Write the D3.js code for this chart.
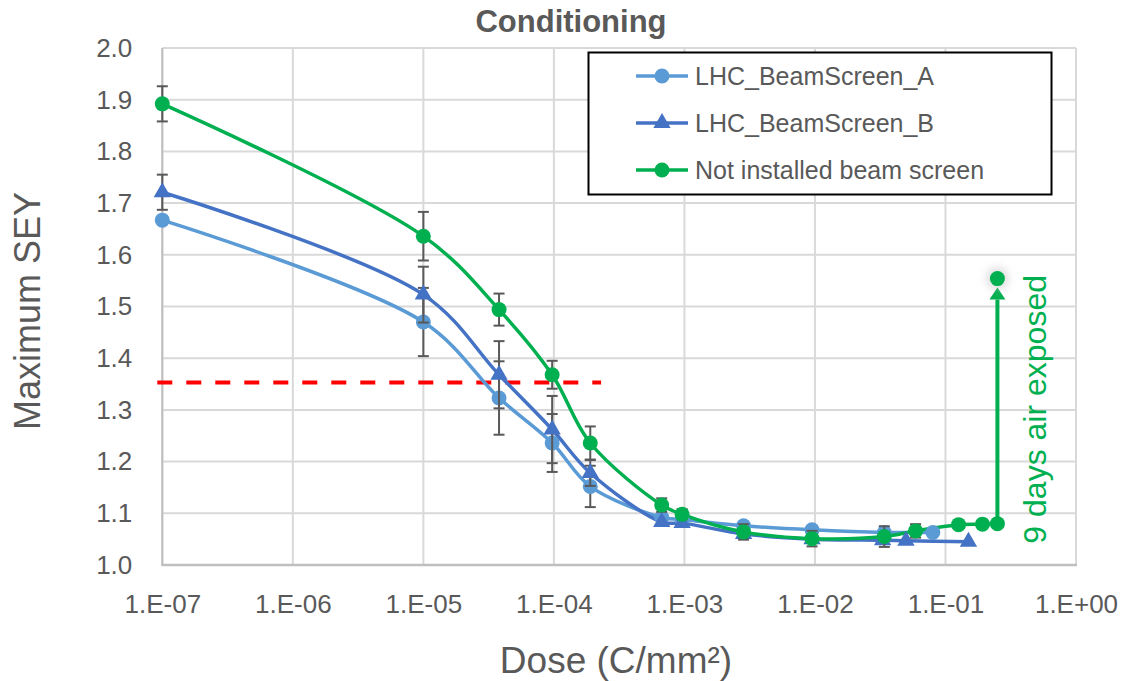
<!DOCTYPE html>
<html>
<head>
<meta charset="utf-8">
<script src="https://cdn.jsdelivr.net/npm/d3@7"></script>
<style>
  html, body { margin: 0; padding: 0; background: #fff; }
  svg text { font-family: "Liberation Sans", Arial, sans-serif; }
</style>
</head>
<body>
<svg id="chart" width="1122" height="681"></svg>
<script>
// ---- data ----
const xTickValues = [1e-7, 1e-6, 1e-5, 1e-4, 1e-3, 1e-2, 1e-1, 1];
const xTickLabels = ["1.E-07", "1.E-06", "1.E-05", "1.E-04", "1.E-03", "1.E-02", "1.E-01", "1.E+00"];
const yTickValues = [1.0, 1.1, 1.2, 1.3, 1.4, 1.5, 1.6, 1.7, 1.8, 1.9, 2.0];

const seriesNames = ["LHC_BeamScreen_A", "LHC_BeamScreen_B", "Not installed beam screen"];

const doseA = [1e-7, 1e-5, 3.8e-5, 9.7e-5, 1.9e-4, 6.7e-4, 9.6e-4, 2.84e-3, 9.5e-3, 3.4e-2, 8.0e-2];
const seyA  = [1.667, 1.470, 1.323, 1.236, 1.152, 1.092, 1.088, 1.076, 1.068, 1.063, 1.063];
const errA  = [0, 0.066, 0.071, 0.056, 0.040, 0, 0, 0, 0, 0, 0];

const doseB = [1e-7, 1e-5, 3.8e-5, 9.7e-5, 1.9e-4, 6.7e-4, 9.6e-4, 2.84e-3, 9.5e-3, 3.3e-2, 4.98e-2, 1.5e-1];
const seyB  = [1.721, 1.523, 1.368, 1.262, 1.178, 1.083, 1.081, 1.060, 1.050, 1.048, 1.047, 1.045];
const errB  = [0.034, 0.054, 0.065, 0.065, 0.025, 0, 0, 0, 0, 0, 0, 0];

const doseG = [1e-7, 1e-5, 3.8e-5, 9.7e-5, 1.9e-4, 6.7e-4, 9.6e-4, 2.84e-3, 9.5e-3, 3.4e-2, 5.9e-2, 1.26e-1, 1.92e-1, 2.5e-1];
const seyG  = [1.892, 1.636, 1.494, 1.368, 1.236, 1.116, 1.098, 1.064, 1.051, 1.055, 1.066, 1.078, 1.079, 1.080];
const errG  = [0.034, 0.047, 0.031, 0.027, 0.032, 0.013, 0.010, 0.015, 0.015, 0.020, 0.013, 0, 0, 0];

const airExposedDose = 2.5e-1;
const airExposedSey = 1.554;
const airExposedLabel = "9 days air exposed";

const thresholdSey = 1.353;
const thresholdDose = [1e-7, 2.3e-4];

// ---- styles ----
const colA = "#5B9BD5", colB = "#4472C4", colG = "#00B050";
const textCol = "#595959";

const svg = d3.select("#chart");
const x = d3.scaleLog().domain([1e-7, 1]).range([162.3, 1076]);
const y = d3.scaleLinear().domain([1.0, 2.0]).range([565, 48]);

const defs = svg.append("defs");
const glow = defs.append("filter").attr("id", "glow").attr("x", "-100%").attr("y", "-100%").attr("width", "300%").attr("height", "300%");
glow.append("feGaussianBlur").attr("stdDeviation", 4);

// gridlines
const grid = svg.append("g");
grid.selectAll("line.h").data(yTickValues).join("line")
  .attr("x1", x(1e-7)).attr("x2", x(1))
  .attr("y1", d => y(d)).attr("y2", d => y(d))
  .attr("stroke", "#D9D9D9").attr("stroke-width", 2);
grid.selectAll("line.v").data(xTickValues).join("line")
  .attr("y1", y(1.0)).attr("y2", y(2.0))
  .attr("x1", d => x(d)).attr("x2", d => x(d))
  .attr("stroke", "#D9D9D9").attr("stroke-width", 2);
// axis lines
svg.append("line").attr("x1", x(1e-7)).attr("x2", x(1e-7)).attr("y1", y(1.0)).attr("y2", y(2.0))
  .attr("stroke", "#BFBFBF").attr("stroke-width", 2);
svg.append("line").attr("x1", x(1e-7) - 1).attr("x2", x(1) + 1).attr("y1", y(1.0)).attr("y2", y(1.0))
  .attr("stroke", "#BFBFBF").attr("stroke-width", 2.5);

// axes (labels only)
const xAxis = svg.append("g").attr("transform", `translate(0,${y(1.0)})`)
  .call(d3.axisBottom(x).tickValues(xTickValues).tickFormat((d, i) => xTickLabels[i]).tickSize(0).tickPadding(30));
const yAxis = svg.append("g").attr("transform", `translate(${x(1e-7)},0)`)
  .call(d3.axisLeft(y).tickValues(yTickValues).tickFormat(d3.format(".1f")).tickSize(0).tickPadding(30));
[xAxis, yAxis].forEach(a => {
  a.select(".domain").remove();
  a.selectAll("text").attr("fill", textCol).style("font-size", "26px")
    .style("font-family", "'Liberation Sans', Arial, sans-serif");
});

// titles
svg.append("text").attr("x", 571).attr("y", 32).attr("text-anchor", "middle")
  .attr("fill", textCol).style("font-size", "31px").style("font-weight", "bold").text("Conditioning");
svg.append("text").attr("x", 616).attr("y", 673).attr("text-anchor", "middle")
  .attr("fill", textCol).style("font-size", "37px").text("Dose (C/mm²)");
svg.append("text").attr("transform", "translate(40,311) rotate(-90)").attr("text-anchor", "middle")
  .attr("fill", textCol).style("font-size", "36px").text("Maximum SEY");

// threshold line
svg.append("line")
  .attr("x1", x(thresholdDose[0]) - 5).attr("x2", x(thresholdDose[1]))
  .attr("y1", y(thresholdSey)).attr("y2", y(thresholdSey))
  .attr("stroke", "#FF0000").attr("stroke-width", 4).attr("stroke-dasharray", "15,14");

const makeSeries = (dose, sey, err) => dose.map((d, i) => ({ x: d, y: sey[i], e: err[i] }));
const series = [
  { name: seriesNames[0], color: colA, shape: "circle", data: makeSeries(doseA, seyA, errA) },
  { name: seriesNames[1], color: colB, shape: "triangle", data: makeSeries(doseB, seyB, errB) },
  { name: seriesNames[2], color: colG, shape: "circle", data: makeSeries(doseG, seyG, errG) }
];

const line = d3.line().x(d => x(d.x)).y(d => y(d.y)).curve(d3.curveCatmullRom.alpha(0.5));
const tri = d3.symbol().type(d3.symbolTriangle).size(130);

series.forEach(s => {
  const g = svg.append("g");
  g.append("path").datum(s.data).attr("d", line)
    .attr("fill", "none").attr("stroke", s.color).attr("stroke-width", 3.5);
});

// air-exposure arrow
{
  const ax = x(airExposedDose);
  const yStart = y(seyG[seyG.length - 1]);
  const yEnd = y(airExposedSey);
  const tipY = yEnd + 9;
  const baseY = tipY + 12;
  svg.append("line").attr("x1", ax).attr("x2", ax).attr("y1", yStart).attr("y2", baseY)
    .attr("stroke", colG).attr("stroke-width", 4);
  svg.append("path").attr("d", `M${ax},${tipY} L${ax + 8},${baseY} L${ax - 8},${baseY} Z`).attr("fill", colG);
  svg.append("circle").attr("cx", ax).attr("cy", yEnd).attr("r", 11).attr("fill", "#bbb").attr("opacity", 0.5)
    .attr("filter", "url(#glow)");
  svg.append("circle").attr("cx", ax).attr("cy", yEnd).attr("r", 7.5).attr("fill", colG);
  svg.append("text").attr("transform", `translate(${ax + 49},${yStart + 20}) rotate(-90)`)
    .attr("fill", colG).style("font-size", "32px").text(airExposedLabel);
}

series.forEach(s => {
  const g = svg.append("g");
  const eb = s.data.filter(d => d.e > 0);
  g.selectAll("line.eb").data(eb).join("line")
    .attr("x1", d => x(d.x)).attr("x2", d => x(d.x))
    .attr("y1", d => y(d.y - d.e)).attr("y2", d => y(d.y + d.e))
    .attr("stroke", "#595959").attr("stroke-width", 2);
  [-1, 1].forEach(sg => {
    g.selectAll("line.cap" + sg).data(eb).join("line")
      .attr("x1", d => x(d.x) - 5.5).attr("x2", d => x(d.x) + 5.5)
      .attr("y1", d => y(d.y + sg * d.e)).attr("y2", d => y(d.y + sg * d.e))
      .attr("stroke", "#595959").attr("stroke-width", 2);
  });
  if (s.shape === "circle") {
    g.selectAll("circle").data(s.data).join("circle")
      .attr("cx", d => x(d.x)).attr("cy", d => y(d.y)).attr("r", 7.5).attr("fill", s.color);
  } else {
    g.selectAll("path.m").data(s.data).join("path")
      .attr("d", tri).attr("transform", d => `translate(${x(d.x)},${y(d.y)})`).attr("fill", s.color);
  }
});

// legend
const lg = svg.append("g");
lg.append("rect").attr("x", 588.5).attr("y", 52.5).attr("width", 463).attr("height", 142)
  .attr("fill", "#fff").attr("stroke", "#000").attr("stroke-width", 2);
series.forEach((s, i) => {
  const cy = 76 + i * 47;
  lg.append("line").attr("x1", 636).attr("x2", 688).attr("y1", cy).attr("y2", cy)
    .attr("stroke", s.color).attr("stroke-width", 3.5);
  if (s.shape === "circle") {
    lg.append("circle").attr("cx", 662).attr("cy", cy).attr("r", 7.5).attr("fill", s.color);
  } else {
    lg.append("path").attr("d", tri).attr("transform", `translate(662,${cy})`).attr("fill", s.color);
  }
  lg.append("text").attr("x", 695).attr("y", cy).attr("dy", "0.36em")
    .attr("fill", textCol).style("font-size", "25px").text(s.name);
});
</script>
</body>
</html>
